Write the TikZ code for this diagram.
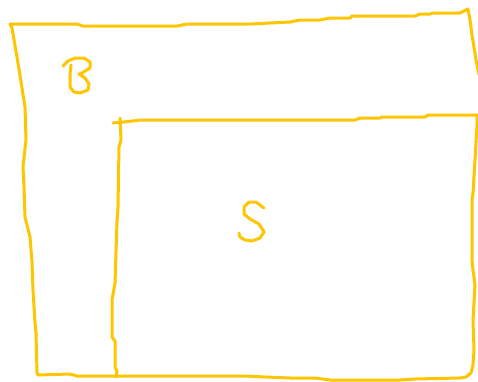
\documentclass[tikz,border=0pt]{standalone}
\definecolor{penyellow}{RGB}{255,197,0}
\tikzset{pen/.style={draw=penyellow,line width=3pt,line cap=round,line join=round}}
\begin{document}
\begin{tikzpicture}[x=1pt,y=-1pt]
\useasboundingbox[fill=white] (0,0) rectangle (478,381);
% outer region B
\draw[pen] (10,24) -- (77,24) -- (83,26) -- (177,26) -- (187,24) -- (250,24) -- (270,23) -- (290,22) -- (300,20) -- (320,20) -- (330,18) -- (350,18) -- (352,16) -- (415,16) -- (420,14) -- (430,14) -- (433,13) -- (460,13) -- (468,9) -- (470,20) -- (472,35) -- (476,60) -- (479,75);
\draw[pen] (10,24) -- (12,28) -- (18,63) -- (25,107) -- (26,140) -- (23,167) -- (24,187) -- (25,217) -- (30,237) -- (32,262) -- (33,290) -- (35,323) -- (36,333) -- (37,373) -- (38,375) -- (70,374) -- (77,376) -- (245,376) -- (265,377) -- (290,378) -- (315,378) -- (330,380) -- (400,380) -- (415,379) -- (460,378) -- (466,377) -- (471,373) -- (473,365);
% inner region S
\draw[pen] (113,123) -- (123,122) -- (133,121) -- (140,120) -- (355,120) -- (360,118) -- (380,118) -- (382,117) -- (425,117) -- (428,115) -- (479,115);
\draw[pen] (120,118) -- (121,140) -- (119,147) -- (118,207) -- (117,222) -- (115,283) -- (112,300) -- (112,337) -- (115,341) -- (115,367) -- (117,371) -- (116,377);
\draw[pen] (477,115) -- (477,125) -- (475,160) -- (473,193) -- (472,200) -- (472,260) -- (473,270) -- (475,285) -- (473,320) -- (474,350) -- (473,365);
% letters
\draw[pen] (63,66) -- (68,61) -- (75,58) -- (84,58) -- (90,62) -- (90,68) -- (82,73) -- (79,74) -- (85,78) -- (89,84) -- (88,90) -- (80,93) -- (74,92) -- (70,87) -- (70,75) -- (71,65);
\draw[pen] (264,208) -- (256,202) -- (249,202) -- (244,207) -- (244,214) -- (250,219) -- (259,224) -- (264,232) -- (260,238) -- (252,241) -- (245,240) -- (240,237) -- (239,233);
\end{tikzpicture}
\end{document}
